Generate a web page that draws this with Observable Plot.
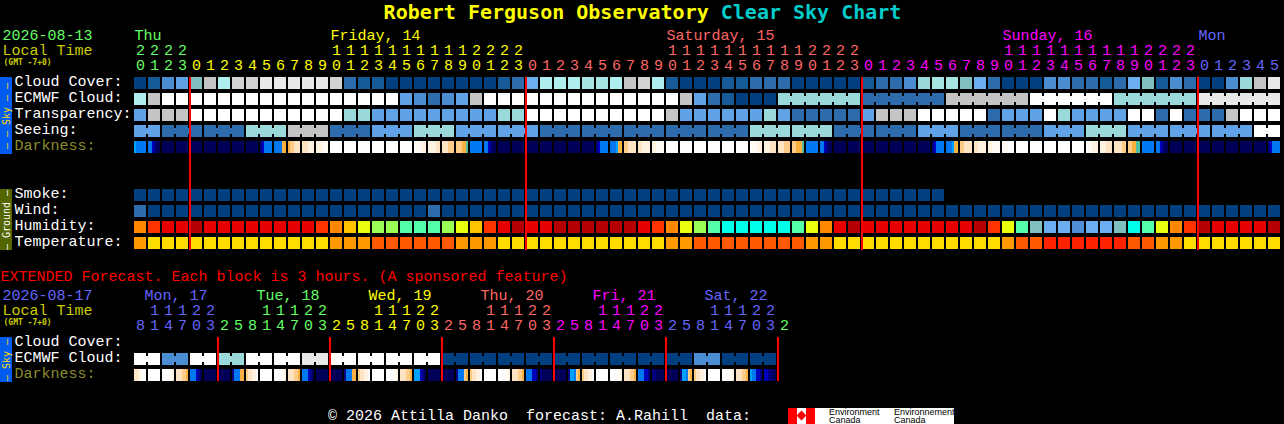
<!DOCTYPE html>
<html>
<head>
<meta charset="utf-8">
<script src="https://cdn.jsdelivr.net/npm/d3@7"></script>
<script src="https://cdn.jsdelivr.net/npm/@observablehq/plot@0.6"></script>
<style>
html,body{margin:0;padding:0;background:#000;width:1284px;height:424px;overflow:hidden}
#title{height:24px;padding-left:1px;text-align:center;font:bold 20px/24px "DejaVu Sans Mono",monospace;white-space:pre;color:#ffff00}
#title span{color:#00cccc}
#chart svg{display:block}
#chart{height:371px}
#foot{position:relative;height:29px;color:#fff;font:15px "Liberation Mono",monospace;white-space:pre}
#foot .c{position:absolute;left:328px;top:13px;line-height:17px}
#logo{position:absolute;left:788px;top:13px;width:166px;height:16px;background:#fff;overflow:hidden;color:#000;font:9px/8px "Liberation Sans",sans-serif}
#logo i{position:absolute;top:0;height:16px;width:9px;background:#f00}
#logo b{position:absolute;left:10px;top:4px;width:7px;height:7px;background:#f00;transform:rotate(45deg)}
#logo span{position:absolute;white-space:pre}
</style>
</head>
<body>
<div id="title">Robert Ferguson Observatory <span>Clear Sky Chart</span></div>
<div id="chart"></div>
<div id="foot"><span class="c">© 2026 Attilla Danko  forecast: A.Rahill  data:</span><div id="logo"><i style="left:0"></i><i style="left:18px"></i><b></b><span style="left:41px;top:0px">Environment
Canada</span><span style="left:106px;top:0px">Environnement
Canada</span></div></div>
<script>
// ---- Hourly block values (cloud scale: 0 overcast ... 10 clear) ----
const cloudCover = [0,1,3,4,5,8,7,8.5,8.5,9, 9,9,9,9,8.5,2,1,1,0,0,
  0,0,0,0,0,0,1,2,4.5,7, 7,7,6.5,6.5,7,8,8.5,7,1,0,
  0,0,1,1,2,2,2,0,0,0, 0,0,1,2,2,3,6,6.5,6.5,5,
  4.5,2,0,0,0,3,3,2,2,1, 2,4.5,5,1,3,2,0,0,3,6,8,9];
const ecmwfHourly = [7,8,10,10,10,10,10,10,10,10, 10,10,10,10,10,10,10,10,10,4,
  3,2,3,4,8,10,10,10,10,10, 10,10,10,10,10,10,10,10,10,8, 4,2,1,0,0,0];
const ecmwfSixHour = [6,2,8,10,6,9];
const transparency = [4,8,8,8,10,10,10,10,10,10, 10,10,10,10,10,6,6,4,4,4,
  4,4,4,4,4,4,6,6,10,10, 10,10,10,10,10,10,10,10,8,4,
  4,4,4,4,4,6,4,2,2,2, 2,2,4,8,8,8,10,10,10,10,
  10,2,4,4,4,10,6,4,4,4, 4,10,10,2,10,2,2,2,8,10,10,10];
const seeingSpans = [2,3,3,3,3,3,3,3,3,3,3,3,3,3,3,3,3,3,3,3,3,3,3,3,3,3,3,2];
const seeingValues = [4,2,2,6,8,2,4,6,4,4,2,2,2,2,2,6,6,2,2,4,2,2,4,6,4,4,4,10];
const darkness = [
 "abbbbb","bbcdnn","nnnnnn","nnnnnn","nnnnnn","nnnnnn","nnnnnn","nnnnnn","nnnnnn","dcbbbb",
 "bbbboo","oppqqq","qqqrrr","rrrsss","wwwwww","wwwwww","wwwwww","wwwwww","wwwwww","wwwwww",
 "wsssrr","rrrrqq","qqqppp","pppoog","bbbbbb","bbcdnn","nnnnnn","nnnnnn","nnnnnn","nnnnnn",
 "nnnnnn","nnnnnn","nnnnnn","dcbbbb","bbbaoo","ppqqqq","qqrrrr","rrssss","wwwwww","wwwwww",
 "wwwwww","wwwwww","wwwwww","wwwwww","wsssrr","rrrqqq","qqqppp","ppooog","bbbbbb","bbcdnn",
 "nnnnnn","nnnnnn","nnnnnn","nnnnnn","nnnnnn","nnnnnn","nnnnnn","dcbbbb","bbbaoo","ppqqqq",
 "qqrrrr","rrssss","ssswww","wwwwww","wwwwww","wwwwww","wwwwww","wwwwww","wssrrr","rrrqqq",
 "qqqqpp","ppoogg","bbbbbb","bbcdnn","nnnnnn","nnnnnn","nnnnnn","nnnnnn","nnnnnn","nnnnnn",
 "nnnnnn","dcbbbb"];
const smoke = [0,0,0,0,0,0,0,0,0,0, 0,0,0,0,0,0,0,0,0,0, 0,0,0,0,0,0,0,0,0,0,
  0,0,0,0,0,0,0,0,0,0, 0,0,0,0,0,0,0,0,0,0, 0,0,0,0,0,0,0,0];
const wind = [2,0,0,0,0,0,0,0,0,0, 0,0,0,0,0,0,0,0,0,0, 0,2,0,0,0,0,0,0,0,0,
  0,0,0,0,0,0,0,0,0,0, 0,0,0,0,0,0,0,0,0,0, 0,0,0,0,0,0,0,0,0,0,
  0,0,0,0,0,0,0,0,0,0, 0,0,0,0,0,0,0,0,0,0, 0,0];
const humidity = [8,9,10,10,11,10,10,10,10,10, 10,10,10,9,8,7,6,5,5,4,
  4,4,5,6,7,9,10,11,10,10, 11,11,11,11,11,11,10,9,8,6,
  5,4,3,3,3,3,3,4,6,8, 10,11,10,10,10,10,10,10,10,10,
  11,9,6,4,2,1,1,0,1,1, 2,3,4,6,8,9,11,10,10,10,10,11];
const temperature = [1,0,0,0,0,0,0,0,0,0, 0,0,0,0,1,1,1,2,2,2,
  2,2,2,1,1,1,0,0,0,0, 0,0,0,0,0,0,0,0,1,1,
  2,2,2,2,2,2,2,2,1,1, 0,0,0,0,0,0,0,0,0,0,
  0,0,1,2,2,3,3,3,3,3, 3,2,2,1,1,0,0,0,0,0,0,0];
const hours = [20,21,22,23,
  0,1,2,3,4,5,6,7,8,9,10,11,12,13,14,15,16,17,18,19,20,21,22,23,
  0,1,2,3,4,5,6,7,8,9,10,11,12,13,14,15,16,17,18,19,20,21,22,23,
  0,1,2,3,4,5,6,7,8,9,10,11,12,13,14,15,16,17,18,19,20,21,22,23,
  0,1,2,3,4,5];
// ---- Extended forecast (3-hour columns, cloud values cover two columns) ----
const extEcmwf = [10,3,10,6,10,10,9,10,10,10,10,0,0,0,0,0,0,0,0,0,3,0,0];
const extDarkness = [
 "qqrsww","wwwwww","wwwssr","qqqppo","bbbcdn","nnnnnn","nnnnnn","dbbboo","pqqrrs","wwwwww",
 "wwsssr","qqqppo","bbbcdn","nnnnnn","nnnnnn","dbbboo","pqqrrs","wwwwww","wwsssr","qqqppo",
 "aaacdn","nnnnnn","nnnnnn","dbbbpo","pqqrrs","wwwwww","wwsssr","qqqppo","bbbccd","dnnnnn",
 "nnnnnn","daabpo","pqqrrs","wwwwww","wwsssr","qqqppo","bbbccd","ddnnnn","nnnnnn","daabpo",
 "pqqrrs","wwwwww","wwsssr","qqqppo","abbccd","ccddnn"];
const extHours = [8,11,14,17,20,23,
  2,5,8,11,14,17,20,23, 2,5,8,11,14,17,20,23, 2,5,8,11,14,17,20,23,
  2,5,8,11,14,17,20,23, 2,5,8,11,14,17,20,23, 2];
// ---- Text and column positions ----
const dayLabels = [["Thu",0,"green"],["Friday, 14",14,"yellow"],["Saturday, 15",38,"salmon"],["Sunday, 16",62,"magenta"],["Mon",76,"blue"]];
const extDayLabels = [["Mon, 17",0.71,"blue"],["Tue, 18",8.71,"green"],["Wed, 19",16.71,"yellow"],["Thu, 20",24.71,"salmon"],["Fri, 21",32.71,"magenta"],["Sat, 22",40.71,"blue"]];
const midnights = [4,28,52,76];
const extMidnights = [6,14,22,30,38,46];
const hourDaySpans = [[0,"green"],[4,"yellow"],[28,"salmon"],[52,"magenta"],[76,"blue"]];
const extDaySpans = [[0,"blue"],[6,"green"],[14,"yellow"],[22,"salmon"],[30,"magenta"],[38,"blue"],[46,"green"]];
const rowNames = [["Cloud Cover:",0,"#fff"],["ECMWF Cloud:",1,"#fff"],["Transparency:",2,"#fff"],["Seeing:",3,"#fff"],["Darkness:",4,"#8c8c2c"],
  ["Smoke:",7,"#fff"],["Wind:",8,"#fff"],["Humidity:",9,"#fff"],["Temperature:",10,"#fff"],
  ["Cloud Cover:",16.25,"#fff"],["ECMWF Cloud:",17.25,"#fff"],["Darkness:",18.25,"#8c8c2c"]];
// ---- Palettes ----
const dayColor = {green:"#66ff66",yellow:"#ffff00",salmon:"#ff6666",magenta:"#ff00ff",blue:"#6666ff"};
const cloudPalette = {0:"#003f7f",1:"#135a97",2:"#2c6cad",3:"#4a8dd3",4:"#60a2e6",4.5:"#6aaef0",5:"#7fbfbf",6:"#99d9d9",6.5:"#a6e4e4",7:"#aeeeee",8:"#c4c4c4",8.5:"#d2d2d2",9:"#e8e8e8",10:"#ffffff"};
const humidityPalette = ["#4f8dd6","#6aaef0","#7fbfbf","#00ffe8","#55ffaa","#99ff55","#e8ff10","#ffc400","#ff8800","#ff3300","#e60000","#b40000"];
const temperaturePalette = ["#ffdd00","#ff9900","#ff5a00","#ff2200"];
const darkPalette = {n:"#000058",d:"#000080",c:"#0000c0",b:"#0078f0",a:"#00a0ff",o:"#f8b040",g:"#50c0a0",p:"#ffcc88",q:"#ffe4c4",r:"#fff2e0",s:"#fffaf4",w:"#ffffff"};
// ---- Layout: one column is 14px, one row is 16px ----
const PX = 14, PY = 16, CHART_W = 1284, CHART_H = 371, X0 = 134, Y0 = 77, TOP = 24;
const cw = 12/PX, ch = 12/PY;
const pxRow = p => (p - Y0)/PY;   // page y -> row
const pxCol = p => (p - X0)/PX;   // page x -> column

const cells = [], links = [], strips = [];
function hourly(values, row, palette){ values.forEach((v,i)=>cells.push({col:i,row,fill:palette[v]})); }
function spanned(values, spans, row, start){
  let c = start;
  values.forEach((v,k)=>{
    for(let j=0;j<spans[k];j++){
      cells.push({col:c+j,row,fill:cloudPalette[v]});
      if(j<spans[k]-1) links.push({col:c+j,row,fill:cloudPalette[v]});
    }
    c += spans[k];
  });
}
function dark(values,row){ values.forEach((s,i)=>[...s].forEach((k,m)=>strips.push({col:i,m,row,fill:darkPalette[k]}))); }

hourly(cloudCover,0,cloudPalette);
hourly(ecmwfHourly,1,cloudPalette);
spanned(ecmwfSixHour,[6,6,6,6,6,6],1,46);
hourly(transparency,2,cloudPalette);
spanned(seeingValues,seeingSpans,3,0);
dark(darkness,4);
hourly(smoke,7,cloudPalette);
hourly(wind,8,cloudPalette);
hourly(humidity,9,humidityPalette);
hourly(temperature,10,temperaturePalette);
spanned(extEcmwf,extEcmwf.map(()=>2),17.25,0);
dark(extDarkness,18.25);

function spanColor(spans,i){ let c; for(const [s,n] of spans) if(i>=s) c=n; return dayColor[c]; }
const digits = [];
hours.forEach((h,i)=>{
  const fill = spanColor(hourDaySpans,i);
  if(h>=10) digits.push({col:i,base:54,t:String(Math.floor(h/10)),fill});
  digits.push({col:i,base:69,t:String(h%10),fill});
});
extHours.forEach((h,i)=>{
  const fill = spanColor(extDaySpans,i);
  if(h>=10) digits.push({col:i,base:314,t:String(Math.floor(h/10)),fill});
  digits.push({col:i,base:329,t:String(h%10),fill});
});
const days = [...dayLabels.map(([t,col,c])=>({t,col,base:39,fill:dayColor[c]})),
              ...extDayLabels.map(([t,col,c])=>({t,col,base:299,fill:dayColor[c]}))];
const leftTexts = [
  {t:"2026-08-13",x:2,base:39,fill:dayColor.green},{t:"Local Time",x:2,base:54,fill:"#cccc00"},
  {t:"2026-08-17",x:2,base:299,fill:dayColor.blue},{t:"Local Time",x:2,base:314,fill:"#cccc00"},
  {t:"EXTENDED Forecast. Each block is 3 hours. (A sponsored feature)",x:0,base:280,fill:"#ff0000"}];
const gmt = [{t:"(GMT -7+0)",base:64},{t:"(GMT -7+0)",base:324}];
const bars = [
  {y1:Y0,y2:154,fill:"#005cf0",t:"– – Sky – –",c:"#ffdd00"},
  {y1:189,y2:250,fill:"#556600",t:"– Ground –",c:"#ffffff"},
  {y1:337,y2:382,fill:"#005cf0",t:"– Sky –",c:"#ffdd00"}];
const rules = [...midnights.map(c=>({c,y1:Y0,y2:250})),...extMidnights.map(c=>({c,y1:337,y2:381}))];

const MONO = "Liberation Mono";
const chart = Plot.plot({
  width:CHART_W, height:CHART_H, margin:0, style:{background:"#000"},
  x:{domain:[pxCol(0),pxCol(CHART_W)],range:[0,CHART_W],axis:null},
  y:{domain:[pxRow(TOP),pxRow(TOP+CHART_H)],range:[0,CHART_H],axis:null},
  color:{type:"identity"},
  marks:[
    Plot.rect(bars,{x1:pxCol(0),x2:pxCol(12),y1:d=>pxRow(d.y1),y2:d=>pxRow(d.y2),fill:"fill",shapeRendering:"crispEdges"}),
    Plot.text(bars,{x:pxCol(6),y:d=>pxRow((d.y1+d.y2)/2),text:"t",fill:"c",rotate:-90,fontSize:10,fontFamily:"DejaVu Sans Mono",textAnchor:"middle",lineAnchor:"middle"}),
    Plot.rect(cells,{x1:"col",x2:d=>d.col+cw,y1:"row",y2:d=>d.row+ch,fill:"fill",shapeRendering:"crispEdges"}),
    Plot.rect(links,{x1:d=>d.col+cw,x2:d=>d.col+1,y1:d=>d.row+3/PY,y2:d=>d.row+9/PY,fill:"fill",shapeRendering:"crispEdges"}),
    Plot.rect(strips,{x1:d=>d.col+d.m*2/PX,x2:d=>d.col+(d.m+1)*2/PX,y1:"row",y2:d=>d.row+ch,fill:"fill",shapeRendering:"crispEdges"}),
    Plot.rect(rules,{x1:d=>d.c-1/PX,x2:d=>d.c+1/PX,y1:d=>pxRow(d.y1),y2:d=>pxRow(d.y2),fill:"#ff0000",shapeRendering:"crispEdges"}),
    Plot.text(rowNames,{x:pxCol(14),y:d=>d[1]+8/PY,text:d=>d[0],fill:d=>d[2],fontSize:15,fontFamily:MONO,textAnchor:"start",lineAnchor:"bottom"}),
    Plot.text(digits,{x:d=>d.col+6/PX,y:d=>pxRow(d.base),text:"t",fill:"fill",fontSize:15,fontFamily:MONO,textAnchor:"middle",lineAnchor:"bottom"}),
    Plot.text(days,{x:"col",y:d=>pxRow(d.base),text:"t",fill:"fill",fontSize:15,fontFamily:MONO,textAnchor:"start",lineAnchor:"bottom"}),
    Plot.text(leftTexts,{x:d=>pxCol(d.x),y:d=>pxRow(d.base),text:"t",fill:"fill",fontSize:15,fontFamily:MONO,textAnchor:"start",lineAnchor:"bottom"}),
    Plot.text(gmt,{x:pxCol(3),y:d=>pxRow(d.base),text:"t",fill:"#cccc00",fontSize:8,fontWeight:"bold",fontFamily:"DejaVu Sans Mono",textAnchor:"start",lineAnchor:"bottom"})
  ]
});
document.getElementById("chart").appendChild(chart);
</script>
</body>
</html>
